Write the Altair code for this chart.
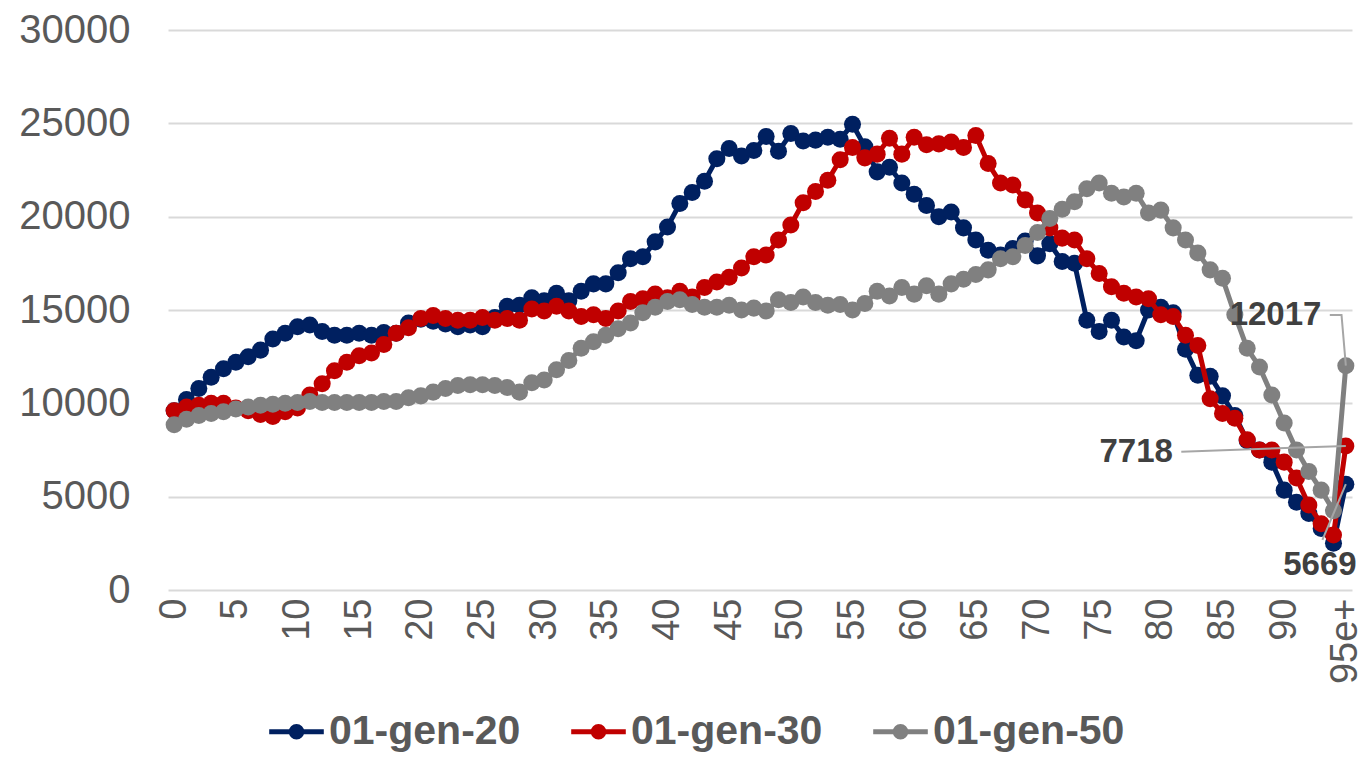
import json
import altair as alt
import pandas as pd

# ---------------- data ----------------
ages = [str(i) for i in range(95)] + ["95e+"]
tick_ages = ["0", "5", "10", "15", "20", "25", "30", "35", "40", "45",
             "50", "55", "60", "65", "70", "75", "80", "85", "90", "95e+"]

series_names = ["01-gen-20", "01-gen-30", "01-gen-50"]
series_colors = ["#002060", "#C00000", "#808080"]

gen20 = [9600, 10200, 10800, 11400, 11850, 12200, 12500, 12850, 13450, 13750,
         14100, 14200, 13850, 13650, 13650, 13750, 13650, 13800, 13750, 14300,
         14500, 14400, 14250, 14100, 14200, 14100, 14600, 15200, 15250, 15650,
         15500, 15900, 15500, 16000, 16400, 16400, 17000, 17750, 17850, 18650,
         19450, 20700, 21300, 21900, 23100, 23650, 23250, 23550, 24300, 23500,
         24450, 24050, 24100, 24250, 24150, 24950, 23750, 22400, 22650, 21800,
         21200, 20600, 20000, 20250, 19400, 18750, 18200, 17950, 18300, 18700,
         17900, 18550, 17600, 17500, 14450, 13850, 14450, 13550, 13350, 15000,
         15150, 14850, 12900, 11500, 11450, 10400, 9350, 8000, 7500, 6850,
         5350, 4700, 4100, 3300, 2500, 5669]

gen30 = [9600, 9800, 9900, 10000, 10000, 9750, 9600, 9400, 9300, 9550,
         9750, 10450, 11050, 11750, 12200, 12550, 12700, 13150, 13750, 14050,
         14550, 14700, 14550, 14450, 14450, 14600, 14450, 14550, 14450, 15050,
         14950, 15200, 14950, 14650, 14750, 14550, 14950, 15450, 15600, 15850,
         15650, 16000, 15700, 16200, 16500, 16750, 17250, 17850, 17950, 18750,
         19550, 20750, 21350, 21950, 23050, 23700, 23150, 23350, 24200, 23350,
         24250, 23850, 23900, 24000, 23700, 24350, 22850, 21800, 21700, 20900,
         20200, 19400, 18850, 18750, 17750, 16950, 16250, 15900, 15700, 15600,
         14750, 14650, 13650, 13100, 10250, 9450, 9200, 8050, 7500, 7500,
         6850, 6000, 4550, 3550, 2950, 7718]

gen50 = [8850, 9150, 9350, 9450, 9550, 9700, 9800, 9900, 9950, 10000,
         10050, 10100, 10050, 10050, 10050, 10050, 10050, 10100, 10100, 10300,
         10400, 10600, 10800, 10950, 11000, 11000, 10950, 10850, 10600, 11100,
         11250, 11800, 12300, 12950, 13300, 13650, 14000, 14300, 14850, 15150,
         15450, 15550, 15300, 15150, 15150, 15250, 15000, 15100, 14950, 15550,
         15400, 15700, 15400, 15250, 15300, 15000, 15350, 16000, 15750, 16200,
         15850, 16300, 15850, 16400, 16650, 16900, 17150, 17750, 17850, 18450,
         19150, 19900, 20400, 20800, 21500, 21800, 21250, 21050, 21250, 20200,
         20350, 19400, 18750, 18050, 17150, 16700, 14750, 12950, 11950, 10450,
         8950, 7500, 6350, 5350, 4250, 12017]

y_ticks = [0, 5000, 10000, 15000, 20000, 25000, 30000]

# data-label callouts (positions in category-index / value units)
callout_text = ["12017", "7718", "5669"]
callout_x = [89.3, 78.0, 92.9]
callout_y = [14730, 7390, 1340]

# leader lines (one path per callout)
leader_id = [0, 0, 0, 1, 1, 2, 2]
leader_step = [0, 1, 2, 0, 1, 0, 1]
leader_x = [93.7, 94.65, 95, 81.66, 95, 93.1, 95]
leader_y = [14730, 14730, 12017, 7410, 7718, 2680, 5669]

# ---------------- tables ----------------
rows = []
for name, vals in zip(series_names, [gen20, gen30, gen50]):
    for i, (a, v) in enumerate(zip(ages, vals)):
        rows.append({"idx": i, "age": a, "series": name, "value": v})
df = pd.DataFrame(rows)

df_call = pd.DataFrame({"x": callout_x, "y": callout_y, "text": callout_text})
df_lead = pd.DataFrame({"id": leader_id, "step": leader_step,
                        "x": leader_x, "y": leader_y})

FONT = "Liberation Sans"

x_scale = alt.Scale(domain=[-0.5, len(ages) - 0.5], nice=False, zero=False)
y_scale = alt.Scale(domain=[0, 30000], nice=False)

x_axis = alt.Axis(
    values=[ages.index(a) for a in tick_ages],
    labelExpr=json.dumps(ages) + "[datum.value]",
    labelAngle=-90, labelFont=FONT, labelFontSize=38, labelColor="#595959",
    labelPadding=8, ticks=False, tickSize=0, domain=False, grid=False,
    labelOverlap=False, title=None,
)
y_axis = alt.Axis(
    values=y_ticks, format="d", labelFont=FONT, labelFontSize=40,
    labelColor="#595959", labelPadding=38, ticks=False, tickSize=0,
    domain=False, grid=True, gridColor="#d9d9d9", gridWidth=2, title=None,
)

legend_path = ("M-3.9,0L3.9,0"
               "M-0.75,0A0.75,0.75,0,1,1,0.75,0A0.75,0.75,0,1,1,-0.75,0Z"
               "M-0.35,0A0.35,0.35,0,1,1,0.35,0A0.35,0.35,0,1,1,-0.35,0Z")

legend = alt.Legend(
    orient="none", legendX=108, legendY=681, direction="horizontal",
    title=None, symbolType=legend_path, symbolSize=196, symbolStrokeWidth=5,
    labelFont=FONT, labelFontWeight="bold", labelFontSize=41,
    labelColor="#595959", labelOffset=12, columnPadding=40, labelLimit=500,
    padding=0,
)

color_scale = alt.Scale(domain=series_names, range=series_colors)

base = alt.Chart(df)
layers = []
for k, name in enumerate(series_names):
    sub = base.transform_filter(alt.datum.series == name)
    line = sub.mark_line(strokeWidth=5).encode(
        x=alt.X("idx:Q", scale=x_scale, axis=x_axis),
        y=alt.Y("value:Q", scale=y_scale, axis=y_axis),
        color=alt.Color("series:N", scale=color_scale,
                        legend=legend if k == 0 else None),
        order="idx:Q",
    )
    pts = sub.mark_circle(size=290, opacity=1).encode(
        x=alt.X("idx:Q", scale=x_scale),
        y=alt.Y("value:Q", scale=y_scale),
        color=alt.Color("series:N", scale=color_scale, legend=None),
    )
    layers += [line, pts]

leaders = alt.Chart(df_lead).mark_line(color="#a6a6a6", strokeWidth=2).encode(
    x=alt.X("x:Q", scale=x_scale),
    y=alt.Y("y:Q", scale=y_scale),
    detail="id:N",
    order="step:Q",
)
labels = alt.Chart(df_call).mark_text(
    font=FONT, fontWeight="bold", fontSize=33, color="#404040",
    align="center", baseline="middle",
).encode(
    x=alt.X("x:Q", scale=x_scale),
    y=alt.Y("y:Q", scale=y_scale),
    text="text:N",
)

chart = alt.layer(*layers, leaders, labels).properties(
    width=1184, height=560,
    autosize=alt.AutoSizeParams(type="none"),
    padding={"left": 160, "top": 22, "right": 8, "bottom": 163},
    background="white",
).configure_view(stroke=None)

chart.save("out.html", embed_options={"renderer": "svg", "actions": False})
